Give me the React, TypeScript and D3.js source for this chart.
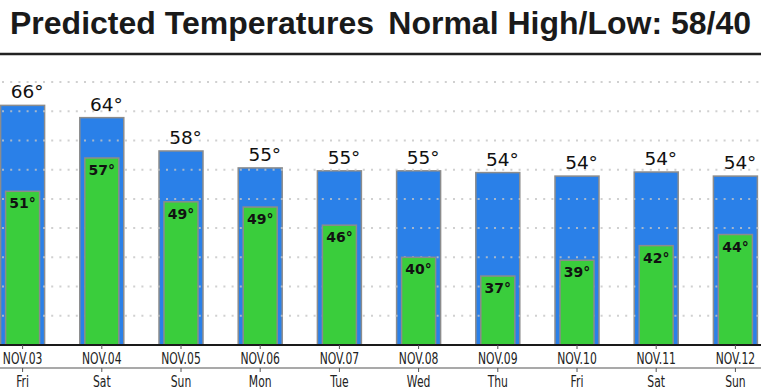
import { useMemo } from "react";
import * as d3 from "d3";

const WIDTH = 761;
const HEIGHT = 389;

const dates = ["NOV.03", "NOV.04", "NOV.05", "NOV.06", "NOV.07", "NOV.08", "NOV.09", "NOV.10", "NOV.11", "NOV.12"];
const days = ["Fri", "Sat", "Sun", "Mon", "Tue", "Wed", "Thu", "Fri", "Sat", "Sun"];
const highs = [66, 63.9, 58.2, 55.3, 54.8, 54.8, 54.5, 53.9, 54.6, 53.9];
const highLabels = ["66", "64", "58", "55", "55", "55", "54", "54", "54", "54"];
const lows = [51.3, 57, 49.5, 48.6, 45.5, 40, 36.8, 39.5, 42, 43.9];
const lowLabels = ["51°", "57°", "49°", "49°", "46°", "40°", "37°", "39°", "42°", "44°"];
const gridValues = [30, 35, 40, 45, 50, 55, 60, 65, 70];

const BLUE = "#2a80e8";
const GREEN = "#3acd3c";
const BORDER = "#8c8c8c";
const FONT = "'DejaVu Sans', sans-serif";
const TITLE_FONT = "'Liberation Sans', Arial, sans-serif";

const HIGH_W = 44;
const LOW_W = 34;
const BASE = 345;

const App = () => {
  const x = useMemo(
    () => d3.scaleBand<string>().domain(dates).range([-17, 775]).paddingInner(0.444).paddingOuter(0.222),
    []
  );
  const y = useMemo(() => d3.scaleLinear().domain([25, 70]).range([BASE, 82]), []);

  const cx = (i: number) => (x(dates[i]) ?? 0) + x.bandwidth() / 2;

  return (
    <div style={{ position: "absolute", left: 0, top: 0, width: WIDTH, height: HEIGHT, background: "#fff" }}>
      <svg width={WIDTH} height={HEIGHT}>
        <rect width={WIDTH} height={HEIGHT} fill="#fff" />
        <text x={10} y={34} fontFamily={TITLE_FONT} fontWeight="bold" fontSize={32} fill="#1a1a1a">
          Predicted Temperatures
        </text>
        <text x={751} y={34} textAnchor="end" fontFamily={TITLE_FONT} fontWeight="bold" fontSize={32} fill="#1a1a1a">
          Normal High/Low: 58/40
        </text>
        <line x1={0} x2={WIDTH} y1={54} y2={54} stroke="#222" strokeWidth={2.5} />

        {/* high bars */}
        {highs.map((v, i) => (
          <rect
            key={"h" + i}
            x={cx(i) - HIGH_W / 2}
            y={y(v)}
            width={HIGH_W}
            height={BASE - y(v)}
            fill={BLUE}
            stroke={BORDER}
            strokeWidth={1.5}
          />
        ))}

        {/* dotted grid */}
        {gridValues.map((g) => (
          <line
            key={g}
            x1={2}
            x2={WIDTH}
            y1={y(g)}
            y2={y(g)}
            stroke="#c4c4c4"
            strokeOpacity={0.8}
            strokeWidth={2}
            strokeDasharray="2 6.2"
          />
        ))}

        {/* low bars */}
        {lows.map((v, i) => (
          <rect
            key={"l" + i}
            x={cx(i) - LOW_W / 2}
            y={y(v)}
            width={LOW_W}
            height={BASE - y(v)}
            fill={GREEN}
            stroke={BORDER}
            strokeWidth={1.5}
          />
        ))}

        {/* high labels: number centred, degree sign hanging to the right */}
        {highs.map((v, i) => (
          <g key={"ht" + i} fontFamily={FONT} fontSize={18.5} fill="#111">
            <text x={cx(i)} y={y(v) - 7} textAnchor="middle">
              {highLabels[i]}
            </text>
            <text x={cx(i) + 11.6} y={y(v) - 7} textAnchor="start">
              °
            </text>
          </g>
        ))}
        {lows.map((v, i) => (
          <text
            key={"lt" + i}
            x={cx(i)}
            y={y(v) + 17}
            textAnchor="middle"
            fontFamily={FONT}
            fontWeight="bold"
            fontSize={14}
            fill="#111"
          >
            {lowLabels[i]}
          </text>
        ))}

        {/* x axis */}
        <line x1={0} x2={WIDTH} y1={BASE} y2={BASE} stroke="#1a1a1a" strokeWidth={2} />
        <line x1={0} x2={WIDTH} y1={368} y2={368} stroke="#8c8c8c" strokeWidth={1.5} />
        {dates.map((d, i) => (
          <g key={d}>
            <line x1={cx(i)} x2={cx(i)} y1={BASE} y2={349} stroke="#555" strokeWidth={1} />
            <line x1={cx(i)} x2={cx(i)} y1={368} y2={372} stroke="#555" strokeWidth={1} />
            <text
              transform={`translate(${cx(i)},363.5) scale(0.72,1)`}
              textAnchor="middle"
              fontFamily={FONT}
              fontSize={15}
              fill="#222"
            >
              {d}
            </text>
            <text
              transform={`translate(${cx(i)},387) scale(0.72,1)`}
              textAnchor="middle"
              fontFamily={FONT}
              fontSize={15}
              fill="#222"
            >
              {days[i]}
            </text>
          </g>
        ))}
      </svg>
    </div>
  );
};

export default App;
